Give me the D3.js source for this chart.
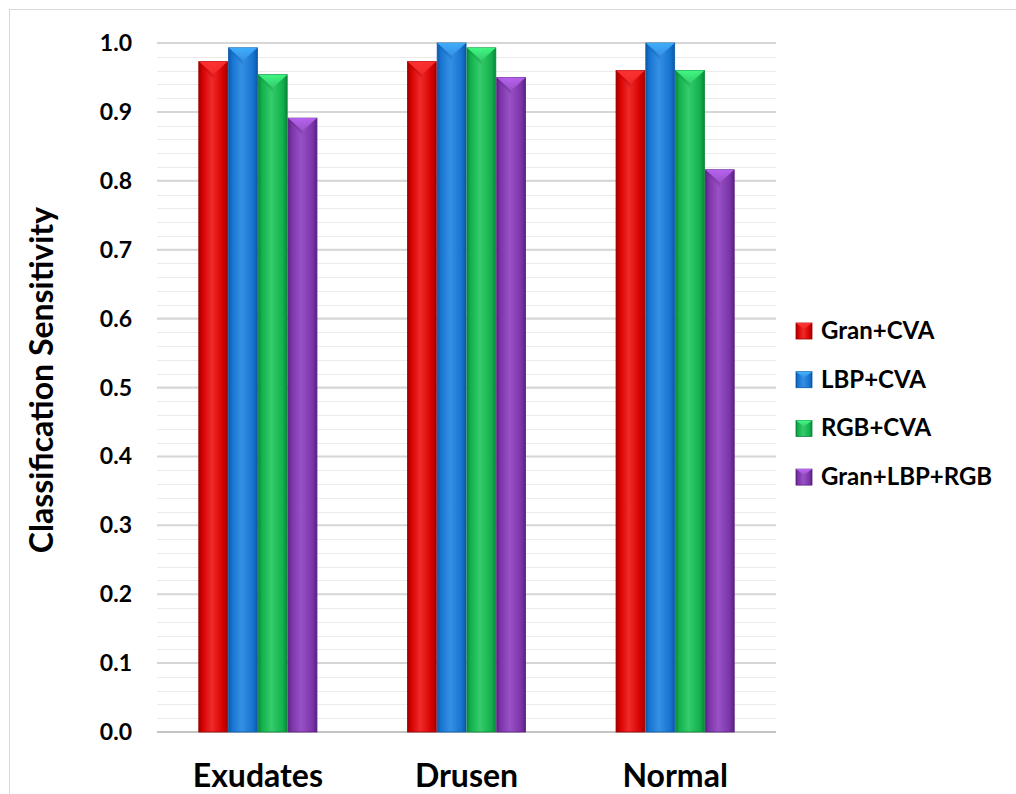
<!DOCTYPE html>
<html>
<head>
<meta charset="utf-8">
<script src="https://cdn.jsdelivr.net/npm/d3@7"></script>
<style>
  body { margin: 0; background: #fff; }
  text { font-family: Lato, "Open Sans", sans-serif; font-weight: 700; fill: #000; }
</style>
</head>
<body>
<div class="grafico"></div>
<script>
/*Datos*/
const categories = ['Exudates', 'Drusen', 'Normal'];
const series = ['Gran+CVA', 'LBP+CVA', 'RGB+CVA', 'Gran+LBP+RGB'];
const granCva = [0.973, 0.973, 0.960];
const lbpCva = [0.993, 1.000, 1.000];
const rgbCva = [0.954, 0.993, 0.960];
const granLbpRgb = [0.891, 0.950, 0.816];
const yTicks = [0, 0.1, 0.2, 0.3, 0.4, 0.5, 0.6, 0.7, 0.8, 0.9, 1.0];

const values = [granCva, lbpCva, rgbCva, granLbpRgb];

/*Colores (oscuro, base, claro) por serie*/
const palette = [
  ['#9e0000', '#d40000', '#f02a2a'],
  ['#0c58a6', '#1673cf', '#3590e4'],
  ['#0a863a', '#12b04c', '#35cc6c'],
  ['#5a2081', '#7a34a8', '#9852c6']
];

const w = 1016;
const h = 794;

const svg = d3.select('.grafico')
  .append('svg')
  .attr('width', w)
  .attr('height', h);

/*Marco*/
svg.append('rect')
  .attr('x', 9.5).attr('y', 9.5)
  .attr('width', w).attr('height', h)
  .attr('fill', 'none')
  .attr('stroke', '#d9d9d9');

/*Escalas*/
const y = d3.scaleLinear().domain([0, 1]).range([732, 43]);
const x0 = d3.scaleBand().domain(categories).range([157, 776])
  .paddingInner(0.425).paddingOuter(0.196);
const x1 = d3.scaleBand().domain(series).range([0, x0.bandwidth()]).padding(0.03);

/*Gradientes*/
const defs = svg.append('defs');
palette.forEach((c, i) => {
  const g = defs.append('linearGradient').attr('id', 'bar' + i)
    .attr('x1', 0).attr('x2', 1).attr('y1', 0).attr('y2', 0);
  g.append('stop').attr('offset', '0%').attr('stop-color', c[0]);
  g.append('stop').attr('offset', '12%').attr('stop-color', c[1]);
  g.append('stop').attr('offset', '45%').attr('stop-color', c[2]);
  g.append('stop').attr('offset', '85%').attr('stop-color', c[1]);
  g.append('stop').attr('offset', '100%').attr('stop-color', c[0]);
  const t = defs.append('linearGradient').attr('id', 'top' + i)
    .attr('x1', 0).attr('x2', 0).attr('y1', 0).attr('y2', 1);
  t.append('stop').attr('offset', '0%').attr('stop-color', d3.color(c[2]).brighter(0.6));
  t.append('stop').attr('offset', '100%').attr('stop-color', c[2]);
});

/*Rejilla menor (cada 0.02) y mayor (cada 0.1)*/
const minor = d3.range(0, 51).map(d => d / 50);
svg.append('g').selectAll('line')
  .data(minor)
  .join('line')
  .attr('x1', 157).attr('x2', 776)
  .attr('y1', d => Math.round(y(d)) + 0.5).attr('y2', d => Math.round(y(d)) + 0.5)
  .attr('stroke', '#ebebeb');

svg.append('g').selectAll('line')
  .data(yTicks)
  .join('line')
  .attr('x1', 157).attr('x2', 776)
  .attr('y1', d => y(d)).attr('y2', d => y(d))
  .attr('stroke', d => d === 0 ? '#c4c4c4' : '#d6d6d6')
  .attr('stroke-width', 2);

/*Etiquetas del eje Y*/
svg.append('g').selectAll('text')
  .data(yTicks)
  .join('text')
  .attr('x', 132)
  .attr('y', d => y(d) + 8)
  .attr('text-anchor', 'end')
  .style('font-size', '23px')
  .text(d => d.toFixed(1));

svg.append('text')
  .attr('transform', 'translate(53,380) rotate(-90)')
  .attr('text-anchor', 'middle')
  .style('font-size', '32px')
  .text('Classification Sensitivity');

/*Barras*/
const groups = svg.append('g').selectAll('g')
  .data(categories)
  .join('g')
  .attr('transform', d => `translate(${x0(d)},0)`);

const bars = groups.selectAll('g')
  .data((d, ci) => series.map((s, si) => ({ s, si, v: values[si][ci] })))
  .join('g')
  .attr('transform', d => `translate(${x1(d.s)},${y(d.v)})`);

const bw = x1.bandwidth();

bars.append('rect')
  .attr('width', bw)
  .attr('height', d => y(0) - y(d.v))
  .attr('fill', d => `url(#bar${d.si})`)
  .attr('stroke', d => palette[d.si][0])
  .attr('stroke-width', 0.8);

/*Bisel superior*/
bars.append('path')
  .attr('d', `M0,0 L${bw},0 L${bw / 2},13 Z`)
  .attr('fill', d => `url(#top${d.si})`)
  .attr('opacity', 0.9);

bars.append('path')
  .attr('d', `M0,0 L${bw / 2},13 L${bw / 2},${13 + 4} L2,4 Z`)
  .attr('fill', d => palette[d.si][0])
  .attr('opacity', 0.25);

/*Etiquetas de categorías*/
svg.append('g').selectAll('text')
  .data(categories)
  .join('text')
  .attr('x', d => x0(d) + x0.bandwidth() / 2)
  .attr('y', 787)
  .attr('text-anchor', 'middle')
  .style('font-size', '32px')
  .text(d => d);

/*Leyenda*/
const legend = svg.append('g')
  .attr('transform', 'translate(796,323)');

const items = legend.selectAll('g')
  .data(series)
  .join('g')
  .attr('transform', (d, i) => `translate(0,${i * 48.7})`);

items.append('rect')
  .attr('width', 16).attr('height', 16)
  .attr('fill', (d, i) => `url(#bar${i})`)
  .attr('stroke', (d, i) => palette[i][0])
  .attr('stroke-width', 0.8);

items.append('path')
  .attr('d', 'M0,0 L16,0 L8,6 Z')
  .attr('fill', (d, i) => `url(#top${i})`);

items.append('text')
  .attr('x', 25)
  .attr('y', 16)
  .style('font-size', '24px')
  .text(d => d);
</script>
</body>
</html>
